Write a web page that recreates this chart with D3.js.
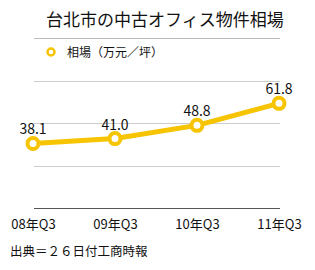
<!DOCTYPE html>
<html lang="ja">
<head>
<meta charset="UTF-8">
<title>台北市の中古オフィス物件相場</title>
<style>
    body { margin: 0; background: #fff; }
    text { font-family: "Noto Sans CJK JP", "Noto Sans", sans-serif; fill: #111; }
</style>
</head>
<body>
<svg width="315" height="270"></svg>
<script src="https://cdn.jsdelivr.net/npm/d3@7"></script>
<script>

    // Data
    const categories = ['08年Q3', '09年Q3', '10年Q3', '11年Q3'];
    const values = [38.1, 41.0, 48.8, 61.8];
    const gridTicks = [0, 25, 50, 75];

    const title = '台北市の中古オフィス物件相場';
    const seriesName = '相場（万元／坪）';
    const source = '出典＝２６日付工商時報';

    const yellow = '#f6c400';

    const svg = d3.select('svg');

    const xScale = d3.scalePoint()
        .domain(categories)
        .range([33, 279]);

    const yScale = d3.scaleLinear()
        .domain([0, 75])
        .range([208, 81]);

    // Title and separator
    svg.append('text')
        .attr('x', 46)
        .attr('y', 26)
        .style('font-size', '17px')
        .text(title);

    svg.append('line')
        .attr('x1', 34).attr('x2', 280)
        .attr('y1', 38.5).attr('y2', 38.5)
        .attr('stroke', '#bbb');

    // Legend
    svg.append('circle')
        .attr('cx', 51).attr('cy', 52)
        .attr('r', 3.5)
        .attr('fill', '#fff')
        .attr('stroke', yellow)
        .attr('stroke-width', 2.5);

    svg.append('text')
        .attr('x', 67)
        .attr('y', 56.5)
        .style('font-size', '12px')
        .text(seriesName);

    // Grid lines
    svg.append('g')
        .selectAll('line')
        .data(gridTicks)
        .enter()
        .append('line')
        .attr('x1', 34).attr('x2', 280)
        .attr('y1', d => Math.round(yScale(d)) + 0.5)
        .attr('y2', d => Math.round(yScale(d)) + 0.5)
        .attr('stroke', d => d === 0 ? '#555' : '#ccc');

    // x axis labels
    const xAxis = d3.axisBottom(xScale).tickSize(0).tickPadding(0);
    const xAxisG = svg.append('g')
        .attr('transform', 'translate(0 220)')
        .call(xAxis);
    xAxisG.select('.domain').remove();
    xAxisG.selectAll('text')
        .attr('dy', '0.71em')
        .style('font-size', '13px')
        .attr('fill', '#111');

    // Line
    const line = d3.line()
        .x((d, i) => xScale(categories[i]))
        .y(d => yScale(d));

    svg.append('path')
        .datum(values)
        .attr('d', line)
        .attr('fill', 'none')
        .attr('stroke', yellow)
        .attr('stroke-width', 5)
        .attr('stroke-linejoin', 'round');

    svg.append('g')
        .selectAll('circle')
        .data(values)
        .enter()
        .append('circle')
        .attr('cx', (d, i) => xScale(categories[i]))
        .attr('cy', d => yScale(d))
        .attr('r', 5.5)
        .attr('fill', '#fff')
        .attr('stroke', yellow)
        .attr('stroke-width', 4);

    // Value labels
    svg.append('g')
        .selectAll('text')
        .data(values)
        .enter()
        .append('text')
        .attr('x', (d, i) => xScale(categories[i]))
        .attr('y', d => yScale(d) - 9)
        .attr('text-anchor', 'middle')
        .style('font-size', '14px')
        .text(d => d.toFixed(1));

    // Source
    svg.append('text')
        .attr('x', 10)
        .attr('y', 256)
        .style('font-size', '12.5px')
        .text(source);

</script>
</body>
</html>
